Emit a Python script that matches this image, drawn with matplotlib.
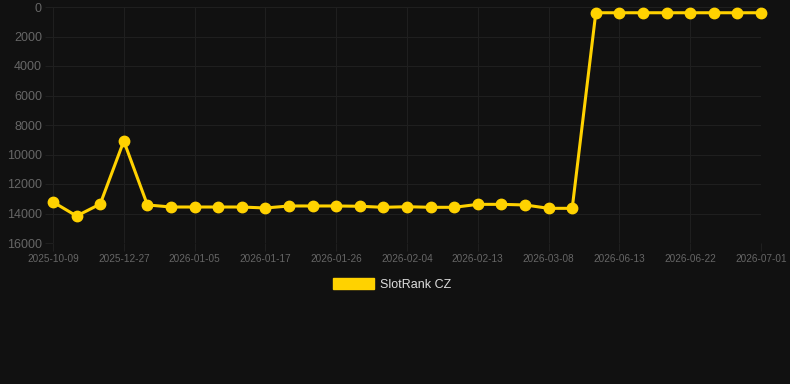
import matplotlib
matplotlib.use("Agg")
import matplotlib.pyplot as plt
from matplotlib.patches import Patch

dates = ["2025-10-09", "2025-11-05", "2025-12-01", "2025-12-27", "2025-12-30", "2026-01-02",
         "2026-01-05", "2026-01-09", "2026-01-13", "2026-01-17", "2026-01-20", "2026-01-23",
         "2026-01-26", "2026-01-29", "2026-02-01", "2026-02-04", "2026-02-07", "2026-02-10",
         "2026-02-13", "2026-02-20", "2026-02-27", "2026-03-08", "2026-03-15", "2026-06-10",
         "2026-06-13", "2026-06-16", "2026-06-19", "2026-06-22", "2026-06-25", "2026-06-28",
         "2026-07-01"]
ranks = [13220, 14170, 13360, 9085, 13420, 13560, 13560, 13560, 13560, 13627, 13490,
         13490, 13490, 13510, 13580, 13540, 13580, 13580, 13380, 13380, 13420, 13650,
         13650, 390, 390, 390, 390, 390, 390, 390, 390]
series_label = "SlotRank CZ"

BG = "#111111"
LINE = "#FFD200"
GRID = "#1f1f1f"
TXT = "#666666"

W, H = 790, 384
fig = plt.figure(figsize=(W / 100, H / 100), dpi=100, facecolor=BG)
ax = fig.add_axes([53 / W, 1 - 243 / H, (761 - 53) / W, (243 - 7) / H], facecolor=BG)

x = list(range(len(ranks)))
ax.plot(x, ranks, color=LINE, lw=2.2, marker="o", ms=7.5, mfc=LINE, mec=LINE, zorder=3,
        clip_on=False)

ax.set_xlim(0, len(ranks) - 1)
ax.set_ylim(16000, 0)
ax.set_yticks(range(0, 16001, 2000))
ax.set_yticklabels([str(v) for v in range(0, 16001, 2000)])
shown = list(range(0, len(ranks), 3))
ax.set_xticks(shown)
# Chart.js auto-skip shows every third category label
labels = ["2025-10-09", "2025-12-27", "2026-01-05", "2026-01-17", "2026-01-26", "2026-02-04",
          "2026-02-13", "2026-03-08", "2026-06-13", "2026-06-22", "2026-07-01"]
ax.set_xticklabels(labels)

ax.grid(True, color=GRID, lw=0.8)
ax.set_axisbelow(True)
for s in ax.spines.values():
    s.set_visible(False)
ax.tick_params(axis="y", colors=GRID, labelcolor=TXT, length=6, width=0.8, pad=2,
               labelsize=9)
ax.tick_params(axis="x", colors=GRID, labelcolor=TXT, length=6, width=0.8, pad=2,
               labelsize=7.2)
for lab in ax.get_yticklabels() + ax.get_xticklabels():
    lab.set_fontfamily(["Liberation Sans", "DejaVu Sans"])

handle = Patch(facecolor=LINE, edgecolor=LINE)
leg = fig.legend([handle], [series_label], loc="center",
                 bbox_to_anchor=(0.5 - 3 / W, 1 - 284.5 / H),
                 frameon=False, handlelength=3.3, handleheight=1.0, handletextpad=0.45,
                 prop={"family": ["Liberation Sans", "DejaVu Sans"], "size": 9})
for t in leg.get_texts():
    t.set_color("#dddddd")

fig.savefig("out.png", dpi=100, facecolor=BG)
